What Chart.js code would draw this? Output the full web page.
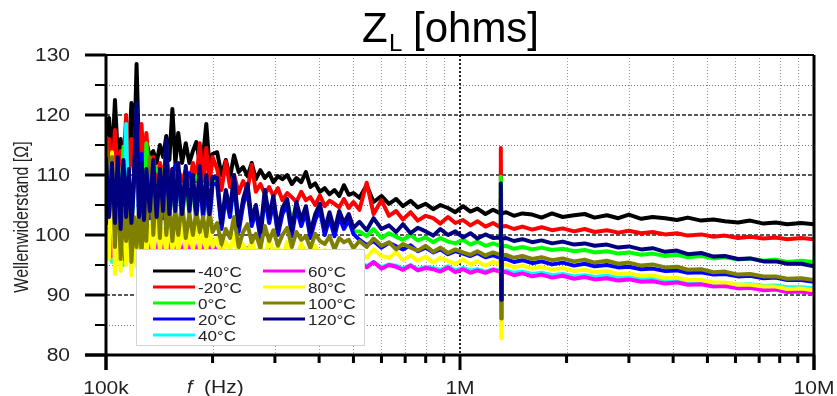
<!DOCTYPE html>
<html lang="de">
<head>
    <meta charset="UTF-8">
    <title>Z_L [ohms]</title>
    <style>
        body { margin: 0; padding: 0; background: #fff; }
        .chart { width: 837px; height: 396px; }
    </style>
    <script src="https://cdn.jsdelivr.net/npm/chart.js"></script>
</head>
<body>
    <div class="chart">
        <canvas id="chartCanvas" width="837" height="396"></canvas>
    </div>

    <script>
        // frequency points in kHz
        const freqKHz = [
            100, 102, 104, 106, 108, 110, 112, 114, 116, 118, 120, 122, 124, 126, 128, 130,
            133, 136, 139, 142, 145, 148, 151, 154, 157, 160, 164, 168, 172, 176, 180, 184, 188, 192, 196, 200,
            206, 212, 218, 224, 230, 237, 244, 251, 258, 265, 273, 281, 289, 297, 306, 315, 325, 335, 345, 356,
            367, 378, 390, 402, 415, 428, 442, 456, 470, 485, 500,
            520, 545, 570, 600, 630, 660, 690, 725, 760, 800, 840, 880, 925, 970, 1020, 1070, 1120, 1180, 1240, 1300,
            1304, 1308, 1312,
            1350, 1420, 1500, 1600, 1700, 1820, 1950, 2100, 2250, 2400, 2600, 2800, 3000, 3250, 3500, 3800, 4100, 4400,
            4800, 5200, 5600, 6100, 6600, 7200, 7800, 8400, 9200, 10000];

        const zM40 = [
            113, 119.5, 112, 122.5, 113, 116, 112, 115, 113, 122, 112, 128.5, 113, 114, 112, 115.5, 113, 114, 112, 115,
            113, 116.5, 112.5, 121, 112, 117, 112, 115.3, 112, 114, 115.5, 112, 113, 118.5, 111.5, 113.5,
            113.8, 110, 112.5, 109.5, 113.3, 110.5, 111.3, 109.8, 112, 109.3, 110.8, 109.5, 110.3, 108.8, 109.8, 109.3, 110, 108.5,
            109.5, 108.8, 110.5, 108, 108.6, 107.2, 107.8, 106.8, 107.5, 106.5, 108.3, 106.7, 107,
            106.2, 108.3, 105.5, 106.5, 105.2, 106, 104.8, 105.7, 104.6, 105.2, 104.3, 105, 104.5, 103.8, 104.8, 103.9, 104.4, 103.5, 104.2, 103.6,
            106, 103.5, 103.6,
            103.8, 103.2, 103.6, 103.4, 102.9, 103.6, 103, 103.3, 103.5, 102.9, 103.3, 102.8, 103.4, 102.7, 103, 102.8, 102.5, 102.9,
            102.4, 102.6, 102.3, 102.1, 102.4, 101.9, 102.1, 101.8, 102, 101.8];
        const zM20 = [
            111, 116, 110, 117.5, 110, 114, 111, 120, 110, 116, 110.5, 113, 109.5, 118.5, 110, 117, 109.5, 113, 109, 112,
            109.5, 113.5, 109, 111, 108.5, 111, 109, 110.8, 108.5, 112, 109, 115.3, 109, 114.5, 108.5, 113,
            111, 107.5, 112.3, 108, 110, 107, 109, 107.5, 111.7, 107.2, 108.5, 106.8, 108, 106.5, 107.8, 105.8, 107, 106.3,
            105.5, 107.2, 105.8, 106.3, 105, 106.6, 104.8, 105.7, 105.2, 104.6, 106, 104.5, 105.5,
            104.2, 108.7, 103.5, 105.8, 103.2, 104, 102.6, 103.8, 102.4, 103.2, 102.8, 101.9, 103, 102, 102.5, 101.6, 102.3, 101.4, 102, 101.3,
            114.5, 101.3, 101.4,
            101.5, 101, 101.4, 100.9, 101.3, 100.8, 101.1, 100.6, 101, 100.5, 100.8, 100.4, 100.7, 100.3, 100.5, 100.1, 100.3, 99.9,
            100.1, 99.7, 99.9, 99.5, 99.7, 99.4, 99.6, 99.3, 99.5, 99.3];
        const z0 = [
            112.2, 102.2, 111.2, 101.2, 112.2, 100.2, 114.7, 102.2, 110.2, 101.2, 109.2, 121, 102.2, 111.2, 101.7, 115.3, 103.2, 111.7, 110.8, 110.2,
            103.2, 115, 102.7, 110.2, 103.2, 111.2, 102.7, 110.7, 103.2, 109.2, 109.2, 110.7, 103.2, 109.2, 102.7, 108.9,
            108.9, 101.4, 106.9, 103.4, 109.4, 100.9, 105.4, 107.9, 101.9, 104.4, 99.9, 106.9, 102.4, 105.9, 100.4, 103.9, 105.4, 102.5,
            104.9, 101.9, 104.2, 99.9, 102.9, 104.6, 100.4, 103.2, 100.2, 103.4, 101.4, 102.9, 100.6,
            100.6, 99.8, 101, 99.5, 100.3, 99.7, 99.2, 100, 99.1, 99.6, 98.8, 99.5, 98.9, 98.6, 99.2, 98.4, 98.9, 98.2, 98.6, 98.2,
            109.7, 89.5, 98.1,
            98.2, 97.7, 98, 97.6, 97.9, 97.5, 97.7, 97.3, 97.5, 97.1, 97.3, 96.9, 97.1, 96.7, 96.9, 96.5, 96.7, 96.3,
            96.5, 96.1, 96.3, 95.9, 96.1, 95.7, 95.9, 95.5, 95.7, 95.5];
        const z20 = [
            111.8, 101.8, 110.8, 100.8, 111.8, 99.8, 111.3, 101.8, 109.8, 100.8, 108.8, 120.8, 101.8, 113.5, 101.3, 109.8, 102.8, 111.3, 101.8, 109.8,
            102.8, 114.6, 102.3, 109.8, 111.7, 110.8, 102.3, 110.3, 110.3, 108.8, 102.3, 110.3, 102.8, 108.8, 102.3, 108.5,
            108.5, 101, 106.5, 103, 109, 100.5, 105, 107.5, 101.5, 104, 99.5, 106.5, 102, 105.5, 100, 103.5, 105, 99.8,
            104.5, 101.5, 103.8, 99.5, 102.5, 104.2, 100, 102.8, 99.8, 103, 101, 102.5, 100.2,
            99.2, 98.3, 99, 97.9, 98.7, 98.1, 97.6, 98.3, 97.3, 97.9, 97.1, 97.6, 96.8, 97.3, 96.9, 96.5, 97, 96.3, 96.6, 96.2,
            96.5, 90, 96,
            96, 95.5, 95.8, 95.3, 95.6, 95.1, 95.4, 94.9, 95.2, 94.8, 95, 94.6, 94.7, 94.3, 94.4, 94, 94.1, 93.7,
            93.8, 93.4, 93.5, 93.1, 93.2, 92.8, 92.9, 92.5, 92.5, 92.2];
        const z40 = [
            97, 100, 95.5, 99, 96, 98.5, 95, 118.5, 96.5, 100, 95.5, 99, 96, 100.5, 95.5, 99, 96.5, 100, 95.5, 98.5,
            96, 99.5, 95.5, 98.5, 96, 99, 95.5, 98.5, 96, 99, 95.8, 98.5, 96, 98.2, 95.8, 98,
            96, 97.5, 95.5, 97.8, 95.6, 96.8, 95.2, 97.4, 95.8, 96.3, 95.3, 97, 95.5, 96.4, 95.1, 96.7, 95.4, 95.9,
            95, 96.4, 95.3, 95.8, 94.9, 96, 95.2, 95.5, 94.8, 95.7, 95, 95.3, 94.8,
            95.6, 94.8, 95.5, 94.6, 95.1, 94.9, 94.4, 95, 94.3, 94.7, 94.5, 94.2, 94.8, 94.1, 94.5, 94.1, 94.3, 93.9, 94.3, 94.1,
            94.3, 91, 94,
            94.1, 93.7, 93.9, 93.5, 93.7, 93.3, 93.5, 93.1, 93.3, 93, 93.2, 92.8, 92.9, 92.6, 92.7, 92.4, 92.5, 92.1,
            92.2, 91.9, 92, 91.7, 91.8, 91.5, 91.6, 91.3, 91.3, 91.1];
        const z60 = [
            98, 101, 96.5, 100, 97, 101.5, 96, 100, 97.5, 101, 96.5, 100, 97, 99.5, 96.5, 100.5, 97, 99, 96.5, 100.3,
            97, 99.5, 96.5, 100, 97, 99, 96.5, 99.5, 97, 98.5, 96.8, 99.3, 96.5, 98.5, 97, 98.8,
            96.8, 98.5, 96, 97.5, 95.8, 98.2, 96.5, 97.8, 95.5, 97.2, 96.8, 95.6, 97.5, 96, 96.9, 95.4, 97.2, 96.2,
            95.5, 96.8, 95.3, 96.5, 95.8, 95.2, 96.4, 95, 96.1, 95.5, 94.9, 95.8, 95.1,
            95.4, 94.6, 95.5, 94.4, 95, 94.7, 94.2, 94.9, 94.1, 94.5, 94.3, 93.9, 94.6, 93.8, 94.3, 93.7, 94.1, 93.7, 94.2, 93.9,
            94, 91, 93.9,
            93.8, 93.3, 93.6, 93.1, 93.4, 92.9, 93.2, 92.7, 93, 92.6, 92.8, 92.4, 92.6, 92.2, 92.3, 91.9, 92.1, 91.7,
            91.8, 91.4, 91.5, 91.1, 91.2, 90.8, 90.9, 90.5, 90.6, 90.3];
        const z80 = [
            101, 96, 113.8, 93.5, 103, 94, 109.5, 95, 102, 93.3, 101, 94.7, 103.5, 96, 102, 97, 101.5, 96.5, 103, 97.5,
            101, 97, 102.5, 97.5, 100.5, 97, 102, 97.5, 101, 97.5, 101.5, 97.8, 100.5, 97.5, 100.8, 98,
            99.5, 96.5, 98.8, 97.5, 100, 96.2, 98.5, 97, 99.2, 96.8, 98.2, 96, 99.5, 97.3, 98, 96.4, 98.8, 97.2,
            96.5, 98.6, 97, 95.8, 98.2, 96.8, 97.5, 96, 97.8, 96.5, 97.2, 95.8, 97,
            97.4, 96.2, 97.6, 96.5, 96.2, 97.1, 95.8, 96.6, 95.7, 96.4, 95.4, 96.2, 95.7, 95.2, 95.9, 95.1, 95.6, 94.9, 95.5, 95.1,
            95.3, 82.8, 95,
            95.1, 94.6, 94.9, 94.4, 94.7, 94.2, 94.5, 94, 94.2, 93.8, 94, 93.5, 93.6, 93.2, 93.3, 92.8, 92.9, 92.5,
            92.5, 92.1, 92.1, 91.7, 91.7, 91.4, 91.4, 91, 91.1, 90.8];
        const z100 = [
            116.5, 103, 113, 98, 110, 96, 104, 99, 105, 95.5, 103, 98, 104.5, 97, 103.5, 99, 113, 100, 109, 99.5,
            111, 100, 105.5, 99, 104, 100, 105.5, 99.5, 103.5, 100, 104, 100.5, 103, 99.8, 104, 100.5,
            102, 98.5, 101, 99.5, 103, 98, 100.5, 101.8, 98.8, 100.2, 97.8, 101.5, 99, 100.8, 98.2, 100, 101.2, 98,
            100.5, 99.2, 99.8, 97.8, 100.2, 99, 98.5, 99.8, 97.6, 99.5, 98.8, 99.2, 97.8,
            99, 98, 99.4, 98.2, 98.8, 97.6, 98.5, 97.9, 97.4, 98.2, 97.2, 97.9, 97, 97.6, 97.1, 96.7, 97.3, 96.6, 97.1, 96.7,
            96.9, 86.1, 96.6,
            96.7, 96.2, 96.5, 96, 96.3, 95.8, 96.1, 95.6, 95.9, 95.4, 95.7, 95.2, 95.4, 94.9, 95.1, 94.6, 94.7, 94.2,
            94.3, 93.8, 93.9, 93.4, 93.5, 93.1, 93.1, 92.7, 92.8, 92.5];
        const z120 = [
            113, 103, 112, 102, 113, 101, 112.5, 103, 111, 102, 110, 122, 103, 112, 102.5, 111, 104, 112.5, 103, 111,
            104, 115.8, 103.5, 111, 104, 112, 103.5, 111.5, 104, 110, 103.5, 111.5, 104, 110, 103.5, 109.7,
            109.5, 102, 107.5, 104, 110, 101.5, 106, 108.5, 102.5, 105, 100.5, 107.5, 103, 106.5, 101, 104.5, 106, 100.8,
            105.5, 102.5, 104.8, 100.5, 103.5, 105.2, 101, 103.8, 100.8, 104, 102, 103.5, 101.2,
            102.2, 100.8, 102.8, 101, 101.6, 100.5, 101.8, 100.3, 101.2, 100.6, 99.9, 101, 100, 100.6, 99.6, 100.3, 99.4, 100.1, 99.5, 99.6,
            108.6, 89.2, 99.4,
            99.5, 99, 99.3, 98.8, 99.1, 98.6, 98.9, 98.4, 98.6, 98.2, 98.4, 97.9, 98.1, 97.6, 97.8, 97.2, 97.4, 96.8,
            97, 96.4, 96.5, 96, 96.1, 95.6, 95.6, 95.2, 95.2, 94.8];

        const seriesNames = ['-40°C', '-20°C', '0°C', '20°C', '40°C', '60°C', '80°C', '100°C', '120°C'];
        const seriesValues = [zM40, zM20, z0, z20, z40, z60, z80, z100, z120];
        const seriesColors = ['#000000', '#ff0000', '#00ff00', '#0000ff', '#00ffff', '#ff00ff', '#ffff00', '#808000', '#000080'];

        const yTicks = [80, 90, 100, 110, 120, 130];
        const yMinorTicks = [85, 95, 105, 115, 125];
        const xTicks = [1e5, 1e6, 1e7];
        const xTickLabels = ['100k', '1M', '10M'];
        const xMinorTicks = [2e5, 3e5, 4e5, 5e5, 6e5, 7e5, 8e5, 9e5, 2e6, 3e6, 4e6, 5e6, 6e6, 7e6, 8e6, 9e6];

        const FONT = '"Liberation Sans", Arial, sans-serif';

        function stretchText(ctx, txt, x, y, size, sx, align, style) {
            ctx.save();
            ctx.translate(x, y);
            ctx.scale(sx, 1);
            ctx.font = (style || '') + size + 'px ' + FONT;
            ctx.textAlign = align;
            ctx.textBaseline = 'alphabetic';
            ctx.fillText(txt, 0, 0);
            ctx.restore();
        }

        function line(ctx, x1, y1, x2, y2) {
            ctx.beginPath();
            ctx.moveTo(x1, y1);
            ctx.lineTo(x2, y2);
            ctx.stroke();
        }

        // dotted grid behind the curves
        const gridPlugin = {
            id: 'grid',
            beforeDatasetsDraw(chart) {
                const { ctx, chartArea: a, scales: { x, y } } = chart;
                ctx.save();
                ctx.strokeStyle = '#777';
                ctx.lineWidth = 1;
                ctx.setLineDash([1, 2]);
                yMinorTicks.forEach(v => { const py = Math.round(y.getPixelForValue(v)) + 0.5; line(ctx, a.left, py, a.right, py); });
                ctx.strokeStyle = '#999';
                xMinorTicks.forEach(v => { const px = Math.round(x.getPixelForValue(v)) + 0.5; line(ctx, px, a.top, px, a.bottom); });
                ctx.strokeStyle = '#222';
                ctx.lineWidth = 1.5;
                ctx.setLineDash([4, 2]);
                yTicks.slice(1, -1).forEach(v => { const py = y.getPixelForValue(v); line(ctx, a.left, py, a.right, py); });
                ctx.lineWidth = 2;
                ctx.setLineDash([2, 2]);
                const p1 = x.getPixelForValue(1e6);
                line(ctx, p1, a.top, p1, a.bottom);
                ctx.restore();
            }
        };

        // legend box, frame, ticks and texts on top
        const framePlugin = {
            id: 'frame',
            afterDatasetsDraw(chart) {
                const { ctx, chartArea: a, scales: { x, y } } = chart;
                ctx.save();

                // legend
                ctx.fillStyle = '#fff';
                ctx.fillRect(136, 249, 229, 97);
                ctx.strokeStyle = '#d4d4d4';
                ctx.lineWidth = 1;
                ctx.strokeRect(136.5, 249.5, 228, 96);
                ctx.lineWidth = 3;
                seriesNames.forEach((name, i) => {
                    const col = i < 5 ? 0 : 1;
                    const row = i < 5 ? i : i - 5;
                    const cy = 271 + row * 16;
                    const x0 = col ? 263 : 153;
                    ctx.strokeStyle = seriesColors[i];
                    line(ctx, x0, cy, x0 + 42, cy);
                    ctx.fillStyle = '#222';
                    stretchText(ctx, name, x0 + 45, cy + 5.5, 15.5, 1.1, 'left');
                });

                // frame
                ctx.strokeStyle = '#000';
                ctx.lineWidth = 2;
                line(ctx, 85, a.top, a.right, a.top);
                ctx.lineWidth = 3;
                line(ctx, a.left, a.top, a.left, a.bottom + 15);
                line(ctx, a.right, a.top, a.right, a.bottom + 15);
                line(ctx, 85, a.bottom, a.right, a.bottom);

                // ticks
                yTicks.forEach(v => { const py = y.getPixelForValue(v); line(ctx, 85, py, a.left, py); });
                ctx.lineWidth = 2;
                yMinorTicks.forEach(v => { const py = y.getPixelForValue(v); line(ctx, 95, py, a.left, py); });
                ctx.lineWidth = 3;
                xTicks.forEach(v => { const px = x.getPixelForValue(v); line(ctx, px, a.bottom, px, a.bottom + 15); });
                xMinorTicks.forEach(v => { const px = x.getPixelForValue(v); line(ctx, px, a.bottom, px, a.bottom + 8); });

                // tick labels
                ctx.fillStyle = '#222';
                yTicks.forEach(v => stretchText(ctx, String(v), 70, y.getPixelForValue(v) + 6, 17.5, 1.2, 'right'));
                xTicks.forEach((v, i) => stretchText(ctx, xTickLabels[i], x.getPixelForValue(v), 393.5, 17.5, 1.2, 'center'));

                // axis titles
                stretchText(ctx, 'f', 187, 392.5, 18, 1.1, 'left', 'italic ');
                stretchText(ctx, '(Hz)', 204, 392.5, 17.5, 1.2, 'left');
                ctx.save();
                ctx.translate(28, 217);
                ctx.rotate(-Math.PI / 2);
                ctx.scale(1, 1.25);
                ctx.font = '16px ' + FONT;
                ctx.textAlign = 'center';
                ctx.fillText('Wellenwiderstand [\u03A9]', 0, 0);
                ctx.restore();

                // title Z_L [ohms]
                ctx.fillStyle = '#000';
                ctx.font = '42px ' + FONT;
                ctx.textAlign = 'left';
                ctx.fillText('Z', 362, 42);
                ctx.font = '24px ' + FONT;
                ctx.fillText('L', 389, 51);
                ctx.font = '42px ' + FONT;
                ctx.fillText('[ohms]', 413, 42);

                ctx.restore();
            }
        };

        const datasets = seriesValues.map((vals, i) => ({
            label: seriesNames[i],
            data: freqKHz.map((f, j) => ({ x: f * 1000, y: vals[j] })),
            borderColor: seriesColors[i],
            backgroundColor: seriesColors[i],
            borderWidth: 4,
            borderJoinStyle: 'round',
            pointRadius: 0,
            tension: 0,
            order: seriesNames.length - i
        }));

        new Chart(document.getElementById('chartCanvas').getContext('2d'), {
            type: 'line',
            data: { datasets: datasets },
            options: {
                responsive: false,
                animation: false,
                devicePixelRatio: 1,
                layout: { padding: { left: 106, right: 23, top: 55, bottom: 41 } },
                scales: {
                    x: { type: 'logarithmic', min: 1e5, max: 1e7, display: false },
                    y: { type: 'linear', min: 80, max: 130, display: false }
                },
                plugins: {
                    legend: { display: false },
                    tooltip: { enabled: false }
                }
            },
            plugins: [gridPlugin, framePlugin]
        });
    </script>
</body>
</html>
